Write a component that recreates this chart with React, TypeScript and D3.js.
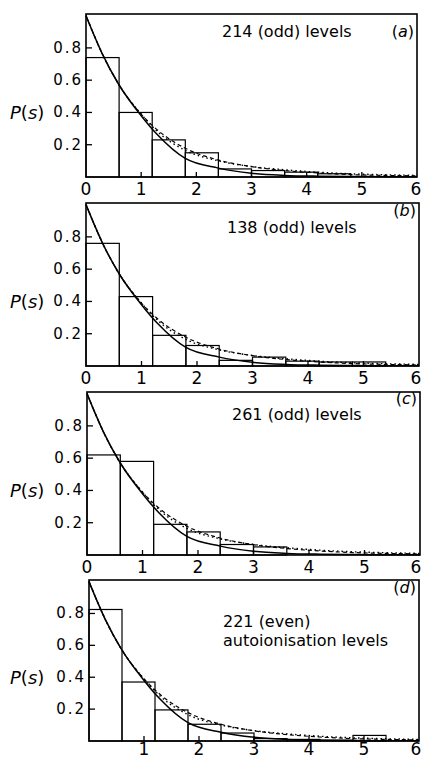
import React, { useEffect, useRef } from 'react';
import * as d3 from 'd3';

// histogram heights, bin width 0.6 starting at s = 0
const BIN_WIDTH = 0.6;
const binsA = [0.74, 0.4, 0.23, 0.15, 0.05, 0.04, 0.03, 0.02];
const binsB = [0.76, 0.43, 0.19, 0.127, 0.035, 0.055, 0.03, 0.025, 0.025];
const binsC = [0.62, 0.58, 0.19, 0.143, 0.065, 0.05];
const binsD = [0.825, 0.37, 0.195, 0.105, 0.05, 0.015, 0.01, 0.005, 0.035];

// curves at these s values
const sGrid = [0, 0.3, 0.6, 1.0, 1.3, 1.8, 2.4, 3.0, 3.6, 4.2, 4.8, 5.4, 6];
const solidCurve = [1.0, 0.76, 0.57, 0.38, 0.26, 0.115, 0.055, 0.023, 0.01, 0.005, 0.003, 0.002, 0.001];
const dashedCurve = [1.0, 0.76, 0.57, 0.39, 0.29, 0.178, 0.105, 0.064, 0.04, 0.025, 0.015, 0.01, 0.007];
const dottedCurve = [1.0, 0.76, 0.57, 0.39, 0.28, 0.165, 0.1, 0.065, 0.045, 0.03, 0.02, 0.014, 0.01];

const xTicks = [0, 1, 2, 3, 4, 5, 6];
const yTicks = [0.2, 0.4, 0.6, 0.8];

const panelLetters = ['a', 'b', 'c', 'd'];
const panelTitles = [['214 (odd) levels'], ['138 (odd) levels'], ['261 (odd) levels'], ['221 (even)', 'autoionisation levels']];

const W = 422;
const H = 761;
const font = '"DejaVu Sans", sans-serif';

const App = () => {
  const ref = useRef<SVGSVGElement>(null);

  useEffect(() => {
    const svg = d3.select(ref.current);
    svg.selectAll('*').remove();

    const panels = [
      { bins: binsA, top: 14, h: 163, left: 86, right: 417, titleX: 222, titleY: 37, labelY: 37, zeroLabel: true, tickDy: 18 },
      { bins: binsB, top: 203, h: 163, left: 86, right: 419, titleX: 227, titleY: 233, labelY: 216, zeroLabel: true, tickDy: 18 },
      { bins: binsC, top: 392, h: 163, left: 87, right: 420, titleX: 232, titleY: 420, labelY: 404, zeroLabel: true, tickDy: 18 },
      { bins: binsD, top: 580, h: 161, left: 89, right: 419, titleX: 223, titleY: 627, labelY: 593, zeroLabel: false, tickDy: 14 },
    ];

    panels.forEach((p, pi) => {
      const bottom = p.top + p.h;
      const x = d3.scaleLinear().domain([0, 6]).range([p.left, p.right]);
      const y = d3.scaleLinear().domain([0, 1.01]).range([bottom, p.top]);
      const g = svg.append('g');

      // histogram
      g.selectAll('rect.bin')
        .data(p.bins)
        .join('rect')
        .attr('x', (d, i) => x(i * BIN_WIDTH))
        .attr('width', x(BIN_WIDTH) - x(0))
        .attr('y', d => y(d))
        .attr('height', d => bottom - y(d))
        .attr('fill', 'none')
        .attr('stroke', '#000')
        .attr('stroke-width', 1.2);

      const line = d3
        .line<number>()
        .x((d, i) => x(sGrid[i]))
        .y(d => y(d))
        .curve(d3.curveMonotoneX);

      g.append('path').datum(dottedCurve).attr('d', line).attr('fill', 'none')
        .attr('stroke', '#000').attr('stroke-width', 1.4).attr('stroke-dasharray', '1.5,3');
      g.append('path').datum(dashedCurve).attr('d', line).attr('fill', 'none')
        .attr('stroke', '#000').attr('stroke-width', 1.2).attr('stroke-dasharray', '4,3');
      g.append('path').datum(solidCurve).attr('d', line).attr('fill', 'none')
        .attr('stroke', '#000').attr('stroke-width', 1.5);

      // frame
      g.append('rect')
        .attr('x', p.left).attr('y', p.top)
        .attr('width', p.right - p.left).attr('height', p.h)
        .attr('fill', 'none').attr('stroke', '#000').attr('stroke-width', 1.6);

      // inward ticks
      g.selectAll('line.yt').data(yTicks).join('line')
        .attr('x1', p.left).attr('x2', p.left + 6)
        .attr('y1', d => y(d)).attr('y2', d => y(d))
        .attr('stroke', '#000').attr('stroke-width', 1.3);
      g.selectAll('line.xt').data(xTicks.slice(1, 6)).join('line')
        .attr('x1', d => x(d)).attr('x2', d => x(d))
        .attr('y1', bottom).attr('y2', bottom - 5)
        .attr('stroke', '#000').attr('stroke-width', 1.3);

      // tick labels
      g.selectAll('text.yl').data(yTicks).join('text')
        .attr('x', p.left - 3).attr('y', d => y(d) + 5)
        .attr('text-anchor', 'end')
        .attr('font-family', font).attr('font-size', 15)
        .attr('letter-spacing', 2)
        .text(d => d3.format('.1f')(d));
      g.selectAll('text.xl').data(p.zeroLabel ? xTicks : xTicks.slice(1)).join('text')
        .attr('x', d => Math.min(x(d), W - 6)).attr('y', bottom + p.tickDy)
        .attr('text-anchor', 'middle')
        .attr('font-family', font).attr('font-size', 17)
        .text(d => d);

      // axis label
      const pl = g.append('text')
        .attr('x', 10).attr('y', y(0.41) + 8)
        .attr('font-family', font).attr('font-size', 18);
      pl.append('tspan').attr('font-style', 'italic').text('P');
      pl.append('tspan').text('(');
      pl.append('tspan').attr('font-style', 'italic').text('s');
      pl.append('tspan').text(')');

      // title
      panelTitles[pi].forEach((t, k) => {
        g.append('text')
          .attr('x', p.titleX).attr('y', p.titleY + k * 19)
          .attr('font-family', font).attr('font-size', 16)
          .text(t);
      });

      // panel letter
      const lt = g.append('text')
        .attr('x', p.right - 3).attr('y', p.labelY)
        .attr('text-anchor', 'end')
        .attr('font-family', font).attr('font-size', 16);
      lt.append('tspan').text('(');
      lt.append('tspan').attr('font-style', 'italic').text(panelLetters[pi]);
      lt.append('tspan').text(')');
    });
  }, []);

  return (
    <svg
      ref={ref}
      width={W}
      height={H}
      style={{ position: 'absolute', left: 0, top: 0, background: '#fff' }}
    />
  );
};

export default App;
